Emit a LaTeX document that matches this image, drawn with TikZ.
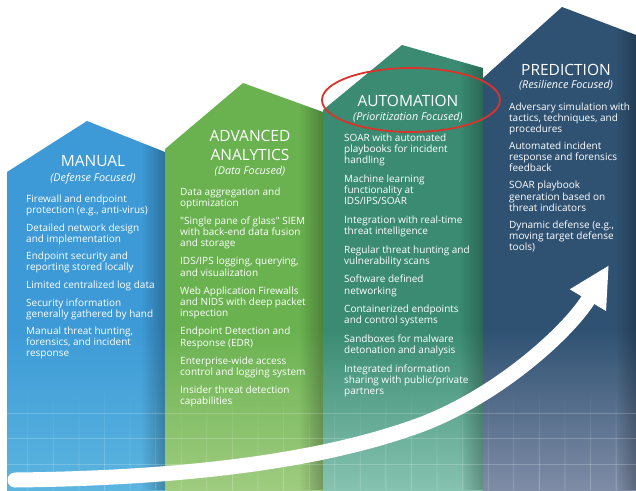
\documentclass[tikz,border=0pt]{standalone}
\usepackage{fontspec}
\setmainfont{Open Sans}
\usetikzlibrary{arrows.meta,shapes.geometric,fadings}
\definecolor{cblue}{HTML}{3D9AD6}
\definecolor{cbluel}{HTML}{5BB5DF}
\definecolor{cgreen}{HTML}{6AB250}
\definecolor{cgreenl}{HTML}{9FCC80}
\definecolor{cteal}{HTML}{3A8B72}
\definecolor{cteall}{HTML}{86C3B1}
\definecolor{cnavy}{HTML}{2F5272}
\definecolor{cnavyl}{HTML}{7F8CA6}
\definecolor{ellred}{HTML}{D9342B}
\tikzfading[name=fadetop, top color=transparent!100, bottom color=transparent!0]
\tikzfading[name=faderight, left color=transparent!100, right color=transparent!0]
\begin{document}
\begin{tikzpicture}[x=1pt,y=-1pt,
  ttl/.style={anchor=base, text=white, inner sep=0pt, font=\fontsize{15.5}{18}\selectfont},
  subttl/.style={anchor=base, text=white, inner sep=0pt, font=\fontsize{10.8}{13}\selectfont\itshape},
  itm/.style={anchor=base west, text=white, inner sep=0pt},
  edgeshadow/.style={black, opacity=0.26, path fading=faderight},
  gridline/.style={white, opacity=0.2}
]
\useasboundingbox (0,0) rectangle (636,490);
\fill[white] (0,0) rectangle (636,490);

% columns
\def\bluepath{(7,490) -- (7,172) -- (87,121) -- (165,152) -- (165,490) -- cycle}
\def\greenpath{(165,490) -- (165,149) -- (243,83) -- (323,112) -- (323,490) -- cycle}
\def\tealpath{(323,490) -- (323,110) -- (402,45) -- (483,68) -- (483,490) -- cycle}
\def\navypath{(483,490) -- (483,78) -- (562,7) -- (636,35) -- (636,490) -- cycle}

\fill[cblue] \bluepath;
\shade[top color=cblue, bottom color=cbluel] (7,330) rectangle (165,490);
\begin{scope}\clip \bluepath; \fill[edgeshadow] (141,100) rectangle (165,490); \end{scope}

\fill[cgreen] \greenpath;
\shade[top color=cgreen, bottom color=cgreenl] (165,330) rectangle (323,490);
\begin{scope}\clip \greenpath; \fill[edgeshadow] (299,60) rectangle (323,490); \end{scope}

\fill[cteal] \tealpath;
\shade[top color=cteal, bottom color=cteall] (323,330) rectangle (483,490);
\begin{scope}\clip \tealpath; \fill[edgeshadow] (459,40) rectangle (483,490); \end{scope}

\fill[cnavy] \navypath;
\shade[top color=cnavy, bottom color=cnavyl] (483,330) rectangle (636,490);
\begin{scope}\clip \navypath; \fill[edgeshadow] (616,0) rectangle (636,490); \end{scope}

% grid
\fill[white, opacity=0.25, path fading=fadetop]
  \foreach \i in {0,...,23} { (27.6+25.6*\i,385) rectangle ++(0.8,105) };
\foreach \gy in {413.2,438.8,464.4} {
  \fill[gridline] (7,\gy-0.4) rectangle (636,\gy+0.4);
}

% arrow
\coordinate (arrS) at (15,480);
\coordinate (arrM) at (420,425);
\coordinate (arrE) at (609,265);
\draw[white, line width=15pt, line cap=round, -{Triangle[width=39pt,length=41pt]}]
  (arrS) .. controls (200,478) and (330,458) .. (arrM)
         .. controls (500,395) and (570,330) .. (arrE);

% MANUAL
\node[ttl] (t1) at (93,166.7) {MANUAL};
\node[subttl] (s1) at (93,181.7) {(Defense Focused)};
\node[itm, font=\fontsize{10}{11}\selectfont] (i1) at (26,202.3) {\begin{tabular}[t]{@{}l@{}}
Firewall and endpoint\\ protection (e.g., anti-virus)\\[6.7pt]
Detailed network design\\ and implementation\\[6.7pt]
Endpoint security and\\ reporting stored locally\\[6.7pt]
Limited centralized log data\\[6.7pt]
Security information\\ generally gathered by hand\\[6.7pt]
Manual threat hunting,\\ forensics, and incident\\ response
\end{tabular}};

% ADVANCED ANALYTICS
\node[ttl] (t2a) at (250,141.7) {ADVANCED};
\node[ttl] (t2b) at (250,160) {ANALYTICS};
\node[subttl] (s2) at (250,174) {(Data Focused)};
\node[itm, font=\fontsize{10}{11.3}\selectfont] (i2) at (180,195) {\begin{tabular}[t]{@{}l@{}}
Data aggregation and\\ optimization\\[6.7pt]
\textquotedbl Single pane of glass\textquotedbl{} SIEM\\ with back-end data fusion\\ and storage\\[6.7pt]
IDS/IPS logging, querying,\\ and visualization\\[6.7pt]
Web Application Firewalls\\ and NIDS with deep packet\\ inspection\\[6.7pt]
Endpoint Detection and\\ Response (EDR)\\[6.7pt]
Enterprise-wide access\\ control and logging system\\[6.7pt]
Insider threat detection\\ capabilities
\end{tabular}};

% AUTOMATION
\node[ttl] (t3) at (408,106.7) {AUTOMATION};
\node[subttl] (s3) at (408,120) {(Prioritization Focused)};
\node[itm, font=\fontsize{10}{11.3}\selectfont] (i3) at (344,141) {\begin{tabular}[t]{@{}l@{}}
SOAR with automated\\ playbooks for incident\\ handling\\[7.2pt]
Machine learning\\ functionality at\\ IDS/IPS/SOAR\\[7.2pt]
Integration with real-time\\ threat intelligence\\[7.2pt]
Regular threat hunting and\\ vulnerability scans\\[7.2pt]
Software defined\\ networking\\[7.2pt]
Containerized endpoints\\ and control systems\\[7.2pt]
Sandboxes for malware\\ detonation and analysis\\[7.2pt]
Integrated information\\ sharing with public/private\\ partners
\end{tabular}};

% PREDICTION
\node[ttl] (t4) at (566,75) {PREDICTION};
\node[subttl] (s4) at (566,88) {(Resilience Focused)};
\node[itm, font=\fontsize{10}{11.2}\selectfont] (i4) at (509,110) {\begin{tabular}[t]{@{}l@{}}
Adversary simulation with\\ tactics, techniques, and\\ procedures\\[5.8pt]
Automated incident\\ response and forensics\\ feedback\\[5.8pt]
SOAR playbook\\ generation based on\\ threat indicators\\[5.8pt]
Dynamic defense (e.g.,\\ moving target defense\\ tools)
\end{tabular}};

% highlight
\node[draw=ellred, line width=1.8pt, ellipse, minimum width=178pt, minimum height=64pt, inner sep=0pt] (hl) at (411,100) {};
\end{tikzpicture}
\end{document}
